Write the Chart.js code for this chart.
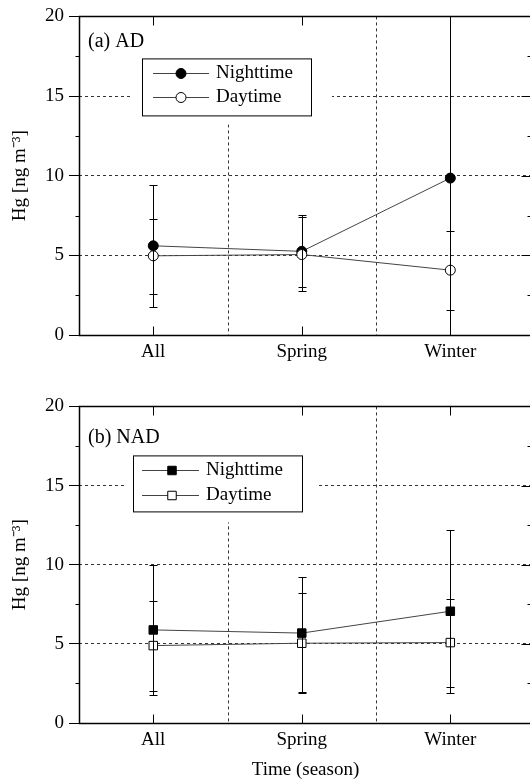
<!DOCTYPE html>
<html>
<head>
<meta charset="utf-8">
<script src="https://cdn.jsdelivr.net/npm/chart.js@4.4.0/dist/chart.umd.min.js"></script>
<style>
    body {margin: 0; background: #fff; overflow: hidden; width: 530px; height: 782px; position: relative;}
    canvas {position: absolute; left: 0;}
    #chartA {top: 0;}
    #chartB {top: 390px;}
</style>
</head>
<body>
<canvas id="chartA" width="540" height="390"></canvas>
<canvas id="chartB" width="540" height="392"></canvas>
<script>
// категории по оси X
const categories = ['All', 'Spring', 'Winter'];
const yTicks = [0, 5, 10, 15, 20];

// (a) AD
const adNight = [5.6, 5.25, 9.85];
const adNightHigh = [9.42, 7.53, 21.0];
const adNightLow = [1.78, 2.99, -1.3];
const adDay = [4.97, 5.05, 4.07];
const adDayHigh = [7.29, 7.43, 6.54];
const adDayLow = [2.6, 2.79, 1.59];

// (b) NAD
const nadNight = [5.88, 5.68, 7.06];
const nadNightHigh = [10.0, 9.25, 12.2];
const nadNightLow = [1.77, 1.94, 1.88];
const nadDay = [4.89, 5.04, 5.08];
const nadDayHigh = [7.7, 8.2, 7.86];
const nadDayLow = [2.04, 1.9, 2.29];

const FONT = 'Liberation Serif, Times New Roman, serif';
const LINE = '#444';

function toPoints(values) {
    return values.map((v, i) => ({x: i + 1, y: v}));
}

// рамка, засечки, сетка, легенда, планки погрешностей
function decorPlugin(cfg) {
    return {
        id: 'decor',
        beforeDatasetsDraw(chart) {
            const {ctx, chartArea: ca, scales: {x}} = chart;
            ctx.save();
            // вертикальная пунктирная сетка между категориями
            ctx.strokeStyle = '#333';
            ctx.lineWidth = 1;
            ctx.setLineDash([3, 3]);
            [1.5, 2.5].forEach(v => {
                const px = Math.round(x.getPixelForValue(v)) + 0.5;
                ctx.beginPath();
                ctx.moveTo(px, ca.top);
                ctx.lineTo(px, ca.bottom);
                ctx.stroke();
            });
            ctx.setLineDash([]);
            // белая подложка под легендой
            const k = cfg.knockout;
            ctx.fillStyle = '#fff';
            ctx.fillRect(ca.left + k.dx, ca.top, k.w, k.h);
            ctx.restore();
        },
        afterDatasetsDraw(chart) {
            const {ctx, chartArea: ca, scales: {x, y}} = chart;
            ctx.save();
            ctx.strokeStyle = '#000';
            ctx.lineWidth = 1;

            // планки погрешностей
            ctx.save();
            ctx.beginPath();
            ctx.rect(ca.left, ca.top, ca.right - ca.left, ca.bottom - ca.top);
            ctx.clip();
            cfg.errors.forEach(err => {
                err.high.forEach((hi, i) => {
                    const px = Math.round(x.getPixelForValue(i + 1)) + 0.5;
                    const yHi = Math.round(y.getPixelForValue(hi)) + 0.5;
                    const yLo = Math.round(y.getPixelForValue(err.low[i])) + 0.5;
                    ctx.beginPath();
                    ctx.moveTo(px, yHi);
                    ctx.lineTo(px, yLo);
                    ctx.moveTo(px - 4, yHi);
                    ctx.lineTo(px + 4, yHi);
                    ctx.moveTo(px - 4, yLo);
                    ctx.lineTo(px + 4, yLo);
                    ctx.stroke();
                });
            });
            ctx.restore();

            // рамка
            const L = ca.left + 0.5, R = ca.right - 0.5, T = Math.round(ca.top) + 0.5, B = Math.round(ca.bottom) + 0.5;
            ctx.lineWidth = 1.5;
            ctx.strokeRect(L, T, R - L, B - T);
            ctx.lineWidth = 1;

            // засечки по Y
            for (let v = 0; v <= 20; v += 2.5) {
                const py = Math.round(y.getPixelForValue(v)) + 0.5;
                const major = v % 5 === 0;
                ctx.beginPath();
                if (!major) {
                    ctx.moveTo(L - 4, py);
                    ctx.lineTo(L, py);
                }
                ctx.moveTo(R - (major ? 10 : 4), py);
                ctx.lineTo(R, py);
                ctx.stroke();
            }
            // засечки по X
            categories.forEach((c, i) => {
                const px = Math.round(x.getPixelForValue(i + 1)) + 0.5;
                ctx.beginPath();
                ctx.moveTo(px, B);
                ctx.lineTo(px, B - 9);
                ctx.moveTo(px, T);
                ctx.lineTo(px, T + 9);
                ctx.stroke();
            });

            // подпись панели
            ctx.fillStyle = '#000';
            ctx.font = '20px ' + FONT;
            ctx.textBaseline = 'middle';
            ctx.textAlign = 'left';
            ctx.fillText(cfg.label, ca.left + 9, ca.top + cfg.labelDy);

            // легенда
            ctx.font = '19px ' + FONT;
            const lg = cfg.legend;
            const bx = ca.left + lg.dx, by = ca.top + lg.dy;
            ctx.fillStyle = '#fff';
            ctx.fillRect(bx, by, lg.w, lg.h);
            ctx.strokeStyle = '#000';
            ctx.strokeRect(bx + 0.5, by + 0.5, lg.w, lg.h);
            chart.data.datasets.slice().reverse().forEach((ds, j) => {
                const ly = Math.round(by + lg.rows[j]) + 0.5;
                ctx.strokeStyle = LINE;
                ctx.beginPath();
                ctx.moveTo(bx + lg.lineX0, ly);
                ctx.lineTo(bx + lg.lineX1, ly);
                ctx.stroke();
                ctx.fillStyle = ds.pointBackgroundColor;
                ctx.strokeStyle = '#000';
                ctx.beginPath();
                if (ds.pointStyle === 'rect') {
                    const s = Math.SQRT1_2 * ds.pointRadius;
                    ctx.rect(bx + lg.markX - s, ly - s, 2 * s, 2 * s);
                } else {
                    ctx.arc(bx + lg.markX, ly, ds.pointRadius, 0, Math.PI * 2);
                }
                ctx.fill();
                ctx.stroke();
                ctx.fillStyle = '#000';
                ctx.fillText(ds.label, bx + lg.textX, ly);
            });
            ctx.restore();
        }
    };
}

function buildChart(canvasId, cfg) {
    const datasets = [
        {
            label: 'Daytime',
            data: toPoints(cfg.day),
            pointStyle: cfg.pointStyle,
            pointRadius: cfg.pointRadius,
            pointBackgroundColor: '#fff'
        },
        {
            label: 'Nighttime',
            data: toPoints(cfg.night),
            pointStyle: cfg.pointStyle,
            pointRadius: cfg.pointRadius,
            pointBackgroundColor: '#000'
        }
    ].map(ds => Object.assign(ds, {
        borderColor: LINE,
        borderWidth: 1,
        pointBorderColor: '#000',
        pointBorderWidth: 1,
        pointHoverRadius: cfg.pointRadius,
        tension: 0
    }));

    return new Chart(document.getElementById(canvasId), {
        type: 'line',
        data: {datasets},
        options: {
            responsive: false,
            animation: false,
            events: [],
            layout: {padding: {top: cfg.padTop, left: 0, right: 8, bottom: 0}},
            plugins: {legend: {display: false}, tooltip: {enabled: false}},
            scales: {
                x: {
                    type: 'linear',
                    min: 0.5,
                    max: 3.55,
                    afterBuildTicks: (scale) => {
                        scale.ticks = categories.map((c, i) => ({value: i + 1}));
                    },
                    afterFit: (scale) => {
                        scale.height = cfg.xHeight;
                    },
                    grid: {display: false, drawTicks: false},
                    border: {display: false},
                    ticks: {
                        color: '#000',
                        font: {family: FONT, size: 19},
                        padding: 6,
                        maxRotation: 0,
                        callback: (v) => categories[v - 1]
                    },
                    title: {
                        display: cfg.xTitle !== '',
                        text: cfg.xTitle,
                        color: '#000',
                        font: {family: FONT, size: 19},
                        padding: {top: 0, bottom: 1}
                    }
                },
                y: {
                    min: 0,
                    max: 20,
                    afterBuildTicks: (scale) => {
                        scale.ticks = yTicks.map(v => ({value: v}));
                    },
                    afterFit: (scale) => {
                        scale.width = 79;
                    },
                    grid: {
                        color: '#333',
                        lineWidth: 1,
                        drawTicks: true,
                        tickLength: 10,
                        tickColor: '#000',
                        tickBorderDash: []
                    },
                    border: {display: false, dash: [3, 3]},
                    ticks: {
                        color: '#000',
                        font: {family: FONT, size: 19},
                        padding: 5
                    },
                    title: {
                        display: true,
                        text: 'Hg [ng m\u207B\u00B3]',
                        color: '#000',
                        font: {family: FONT, size: 19},
                        padding: {top: 9, bottom: 0}
                    }
                }
            }
        },
        plugins: [decorPlugin(cfg)]
    });
}

buildChart('chartA', {
    night: adNight,
    day: adDay,
    errors: [
        {high: adNightHigh, low: adNightLow},
        {high: adDayHigh, low: adDayLow}
    ],
    pointStyle: 'circle',
    pointRadius: 5,
    padTop: 12,
    xHeight: 55,
    xTitle: '',
    label: '(a) AD',
    labelDy: 25,
    knockout: {dx: 54, w: 199, h: 108},
    legend: {dx: 63, dy: 42, w: 169, h: 57, rows: [15, 39], lineX0: 11, lineX1: 67, markX: 39, textX: 74}
});

buildChart('chartB', {
    night: nadNight,
    day: nadDay,
    errors: [
        {high: nadNightHigh, low: nadNightLow},
        {high: nadDayHigh, low: nadDayLow}
    ],
    pointStyle: 'rect',
    pointRadius: 6,
    padTop: 10,
    xHeight: 59,
    xTitle: 'Time (season)',
    label: '(b) NAD',
    labelDy: 31,
    knockout: {dx: 46, w: 194, h: 116},
    legend: {dx: 54, dy: 49, w: 169, h: 56, rows: [15, 40], lineX0: 9, lineX1: 66, markX: 39, textX: 73}
});
</script>
</body>
</html>
